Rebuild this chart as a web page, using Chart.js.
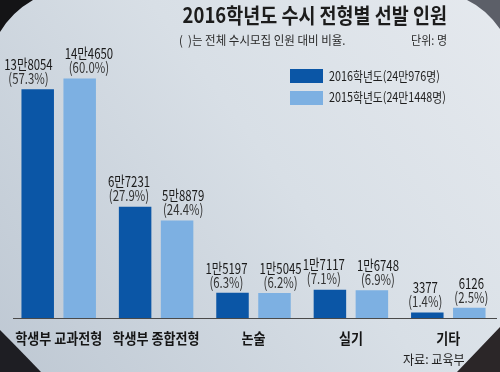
<!DOCTYPE html>
<html>
<head>
<meta charset="utf-8">
<script src="https://cdn.jsdelivr.net/npm/chart.js@4.4.0/dist/chart.umd.min.js"></script>
<style>
  html, body { margin: 0; padding: 0; background: #cfd7e0; }
  #wrap { width: 500px; height: 372px; }
</style>
</head>
<body>
<div id="wrap"><canvas id="myChart"></canvas></div>
<script>
const categories = ['학생부 교과전형', '학생부 종합전형', '논술', '실기', '기타'];
const years = ['2016학년도', '2015학년도'];
const totals = [240976, 241448];
const values2016 = [138054, 67231, 15197, 17117, 3377];
const values2015 = [144650, 58879, 15045, 16748, 6126];
const share2016 = [57.3, 27.9, 6.3, 7.1, 1.4];
const share2015 = [60.0, 24.4, 6.2, 6.9, 2.5];

const FONT = "'Noto Sans CJK KR', 'Noto Sans', sans-serif";
const dark = '#0b56a6';
const light = '#7db0e2';

// 138054 -> "13만8054"
function toMan(n) {
    const m = Math.floor(n / 10000), r = n % 10000;
    return m > 0 ? m + '만' + r : String(r);
}

// condensed text, like the newspaper font
function txt(ctx, s, x, y, size, weight, color, align, sx) {
    ctx.save();
    ctx.font = weight + ' ' + size + 'px ' + FONT;
    const w = ctx.measureText(s).width * sx;
    let left = x;
    if (align === 'center') left = x - w / 2;
    else if (align === 'right') left = x - w;
    ctx.fillStyle = color;
    ctx.textBaseline = 'middle';
    ctx.textAlign = 'left';
    ctx.translate(left, y);
    ctx.scale(sx, 1);
    ctx.fillText(s, 0, 0);
    ctx.restore();
    return w;
}
function txtWidth(ctx, s, size, weight, sx) {
    ctx.save();
    ctx.font = weight + ' ' + size + 'px ' + FONT;
    const w = ctx.measureText(s).width * sx;
    ctx.restore();
    return w;
}

const backdrop = {
    id: 'backdrop',
    beforeDraw(chart) {
        const ctx = chart.ctx, W = chart.width, H = chart.height;
        ctx.save();
        const g = ctx.createLinearGradient(0, H, W, 0);
        g.addColorStop(0, '#bec8d3');
        g.addColorStop(0.55, '#d8dfe6');
        g.addColorStop(1, '#e5e9ee');
        ctx.fillStyle = g;
        ctx.fillRect(0, 0, W, H);
        const corner = (c, a, q, b, col) => {
            ctx.beginPath();
            ctx.moveTo(c[0], c[1]);
            ctx.lineTo(a[0], a[1]);
            ctx.quadraticCurveTo(q[0], q[1], b[0], b[1]);
            ctx.closePath();
            ctx.fillStyle = col;
            ctx.fill();
        };
        corner([0, 0], [0, 32], [12, 12], [33, 0], '#141416');
        corner([W, 0], [467, 0], [486, 9], [W, 29], '#5c5f68');
        corner([0, H], [0, 330], [16, 346], [41, H], '#1e1e23');
        corner([W, H], [W, 327], [480, 348], [457, H], '#2b2628');
        ctx.restore();
    }
};

const annotate = {
    id: 'annotate',
    afterDatasetsDraw(chart) {
        const ctx = chart.ctx, area = chart.chartArea;
        const xs = chart.scales.x;

        // base line
        ctx.save();
        ctx.strokeStyle = '#4a4a4a';
        ctx.lineWidth = 1.2;
        ctx.beginPath();
        ctx.moveTo(area.left + 3, area.bottom + 0.5);
        ctx.lineTo(area.right, area.bottom + 0.5);
        ctx.stroke();
        ctx.restore();

        // value labels, pushed apart when they collide
        const shares = [share2016, share2015];
        const m0 = chart.getDatasetMeta(0).data, m1 = chart.getDatasetMeta(1).data;
        categories.forEach((c, i) => {
            const items = [m0[i], m1[i]].map((bar, d) => {
                const v = chart.data.datasets[d].data[i];
                const a = toMan(v), b = '(' + shares[d][i].toFixed(1) + '%)';
                const w = Math.max(txtWidth(ctx, a, 15, 'normal', 0.76), txtWidth(ctx, b, 15, 'normal', 0.76));
                return { x: bar.x, y: bar.y, a, b, w };
            });
            const over = (items[0].x + items[0].w / 2 + 12) - (items[1].x - items[1].w / 2);
            if (over > 0) {
                items[0].x -= over / 2;
                items[1].x += over / 2;
            }
            items.forEach(it => {
                txt(ctx, it.a, it.x, it.y - 25, 15, 'normal', '#1a1a1a', 'center', 0.76);
                txt(ctx, it.b, it.x, it.y - 11, 15, 'normal', '#333', 'center', 0.76);
            });
            txt(ctx, c, xs.getPixelForValue(i), 338, 15, 'bold', '#151515', 'center', 0.87);
        });
    },
    afterDraw(chart) {
        const ctx = chart.ctx;
        txt(ctx, '2016학년도 수시 전형별 선발 인원', 447, 15, 21, 'bold', '#1c1c1c', 'right', 0.88);
        txt(ctx, '(  )는 전체 수시모집 인원 대비 비율.', 179, 40, 12.5, 'normal', '#2a2a2a', 'left', 0.92);
        txt(ctx, '단위: 명', 447, 40, 12.5, 'normal', '#2a2a2a', 'right', 0.88);
        txt(ctx, '자료: 교육부', 403, 359, 13, 'normal', '#222', 'left', 0.93);

        chart.data.datasets.forEach((ds, d) => {
            ctx.fillStyle = ds.backgroundColor;
            ctx.fillRect(290, 69 + d * 22, 33, 14);
            txt(ctx, ds.label, 329, 76 + d * 21.5, 13, 'normal', '#1e1e1e', 'left', 0.83);
        });
    }
};

const data = {
    labels: categories,
    datasets: [{
        label: years[0] + '(' + toMan(totals[0]) + '명)',
        backgroundColor: dark,
        data: values2016,
        barPercentage: 0.774,
        categoryPercentage: 0.862
    }, {
        label: years[1] + '(' + toMan(totals[1]) + '명)',
        backgroundColor: light,
        data: values2015,
        barPercentage: 0.774,
        categoryPercentage: 0.862
    }]
};

const config = {
    type: 'bar',
    data: data,
    options: {
        responsive: true,
        maintainAspectRatio: false,
        animation: false,
        layout: { padding: { left: 10, right: 3, top: 53, bottom: 54 } },
        scales: {
            x: { display: false },
            y: { display: false, min: 0, max: 160000 }
        },
        plugins: {
            legend: { display: false },
            tooltip: { enabled: false }
        }
    },
    plugins: [backdrop, annotate]
};

const myChart = new Chart(document.getElementById('myChart'), config);
</script>
</body>
</html>
